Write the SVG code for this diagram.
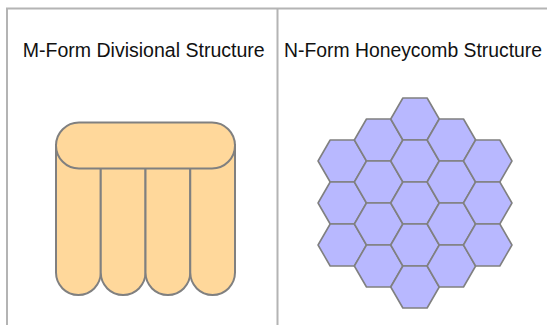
<svg xmlns="http://www.w3.org/2000/svg" xmlns:xlink="http://www.w3.org/1999/xlink" width="547" height="325" viewBox="0 0 547 325">
<style>
.frame{stroke:#b4b4b4;stroke-width:2;fill:none}
.title{font-family:"Liberation Sans",Arial,sans-serif;font-size:19.5px;fill:#111}
.col{fill:#ffd89b;stroke:#808080;stroke-width:2}
.hex{fill:#b8b8ff;stroke:#808080;stroke-width:1.6;stroke-linejoin:round}
</style>
<defs>
<polygon id="hx" points="-24.25,0 -12.12,-21 12.12,-21 24.25,0 12.12,21 -12.12,21"/>
</defs>
<rect width="547" height="325" fill="#fff"/>
<g id="frame">
<line class="frame" x1="6" y1="8.5" x2="547" y2="8.5"/>
<line class="frame" x1="7" y1="8" x2="7" y2="325"/>
<line class="frame" x1="277.5" y1="8" x2="277.5" y2="325"/>
</g>
<g id="m-form-title"><text class="title" x="22.7" y="57" textLength="242" lengthAdjust="spacingAndGlyphs">M-Form Divisional Structure</text></g>
<g id="n-form-title"><text class="title" x="284" y="57" textLength="258" lengthAdjust="spacingAndGlyphs">N-Form Honeycomb Structure</text></g>
<g id="m-form">
<path class="col" d="M56,145 V272.6 A22.375,22.375 0 0 0 100.75,272.6 V145 Z"/>
<path class="col" d="M100.75,145 V272.6 A22.375,22.375 0 0 0 145.5,272.6 V145 Z"/>
<path class="col" d="M145.5,145 V272.6 A22.375,22.375 0 0 0 190.25,272.6 V145 Z"/>
<path class="col" d="M190.25,145 V272.6 A22.375,22.375 0 0 0 235,272.6 V145 Z"/>
<rect class="col" x="56" y="122.5" width="179" height="46" rx="23" ry="23"/>
</g>
<g id="n-form">
<use class="hex" xlink:href="#hx" x="342.3" y="161"/>
<use class="hex" xlink:href="#hx" x="342.3" y="203"/>
<use class="hex" xlink:href="#hx" x="342.3" y="245"/>
<use class="hex" xlink:href="#hx" x="378.6" y="140"/>
<use class="hex" xlink:href="#hx" x="378.6" y="182"/>
<use class="hex" xlink:href="#hx" x="378.6" y="224"/>
<use class="hex" xlink:href="#hx" x="378.6" y="266"/>
<use class="hex" xlink:href="#hx" x="415" y="119"/>
<use class="hex" xlink:href="#hx" x="415" y="161"/>
<use class="hex" xlink:href="#hx" x="415" y="203"/>
<use class="hex" xlink:href="#hx" x="415" y="245"/>
<use class="hex" xlink:href="#hx" x="415" y="287"/>
<use class="hex" xlink:href="#hx" x="451.4" y="140"/>
<use class="hex" xlink:href="#hx" x="451.4" y="182"/>
<use class="hex" xlink:href="#hx" x="451.4" y="224"/>
<use class="hex" xlink:href="#hx" x="451.4" y="266"/>
<use class="hex" xlink:href="#hx" x="487.7" y="161"/>
<use class="hex" xlink:href="#hx" x="487.7" y="203"/>
<use class="hex" xlink:href="#hx" x="487.7" y="245"/>
</g>
</svg>
